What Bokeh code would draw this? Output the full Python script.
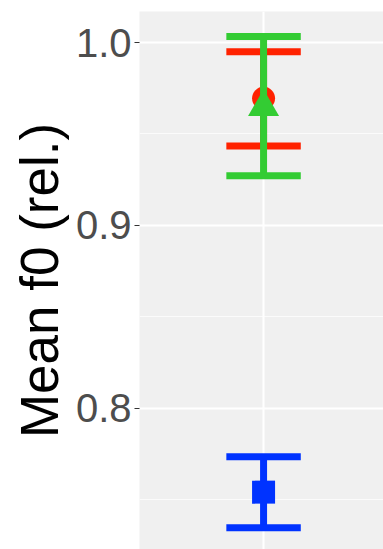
from bokeh.plotting import figure
from bokeh.models import FixedTicker, Grid, ColumnDataSource
from bokeh.embed import file_html
from bokeh.resources import INLINE

# data
groups = ["red", "blue", "green"]
xpos = [1, 1, 1]
means = [0.9695, 0.7543, 0.9647]
lower = [0.9435, 0.7349, 0.9272]
upper = [0.9950, 0.7737, 1.0033]
colors = ["#FF2200", "#0033FF", "#33CC33"]
markers = ["circle", "square", "triangle"]
marker_sizes = [23, 23, 31]
y_ticks = [0.8, 0.9, 1.0]
y_tick_labels = ["0.8", "0.9", "1.0"]
y_minor = [0.75, 0.85, 0.95]
cap_half = 0.18

p = figure(width=383, height=549, output_backend="svg", toolbar_location=None,
           x_range=(0.4, 1.58), y_range=(0.72295, 1.01694),
           x_axis_location=None, min_border_left=139, min_border_top=11,
           min_border_bottom=0, min_border_right=0)
p.background_fill_color = "#F0F0F0"
p.border_fill_color = "white"
p.outline_line_color = None

# grids
p.xgrid.visible = False
p.ygrid.visible = False
p.add_layout(Grid(dimension=1, ticker=FixedTicker(ticks=y_ticks, minor_ticks=y_minor),
                  grid_line_color="white", grid_line_width=2,
                  minor_grid_line_color="white", minor_grid_line_width=1,
                  minor_grid_line_alpha=0.7, level="underlay"))
p.add_layout(Grid(dimension=0, ticker=FixedTicker(ticks=[1]),
                  grid_line_color="white", grid_line_width=2, level="underlay"))

ax = p.yaxis[0]
ax.ticker = FixedTicker(ticks=y_ticks)
ax.major_label_overrides = {t: l for t, l in zip(y_ticks, y_tick_labels)}
ax.axis_line_color = None
ax.major_tick_out = 5
ax.major_tick_in = 0
ax.major_tick_line_color = "#333333"
ax.major_tick_line_width = 1
ax.minor_tick_line_color = None
ax.major_label_text_font = "Liberation Sans"
ax.major_label_text_font_size = "40px"
ax.major_label_text_color = "#4D4D4D"
ax.major_label_standoff = 3
ax.axis_label = "Mean f0 (rel.)"
ax.axis_label_text_font = "Liberation Sans"
ax.axis_label_text_font_size = "53px"
ax.axis_label_text_font_style = "normal"
ax.axis_label_text_color = "black"
ax.axis_label_standoff = 4

for i in range(len(groups)):
    src = ColumnDataSource(dict(
        x=[xpos[i]], m=[means[i]], lo=[lower[i]], hi=[upper[i]],
        xl=[xpos[i] - cap_half], xr=[xpos[i] + cap_half]))
    c = colors[i]
    p.segment(x0="x", y0="lo", x1="x", y1="hi", source=src, line_color=c, line_width=7)
    p.segment(x0="xl", y0="hi", x1="xr", y1="hi", source=src, line_color=c, line_width=7)
    p.segment(x0="xl", y0="lo", x1="xr", y1="lo", source=src, line_color=c, line_width=7)
    p.scatter(x="x", y="m", source=src, marker=markers[i], size=marker_sizes[i],
              fill_color=c, line_color=None)

open("out.html", "w").write(file_html(p, INLINE))
